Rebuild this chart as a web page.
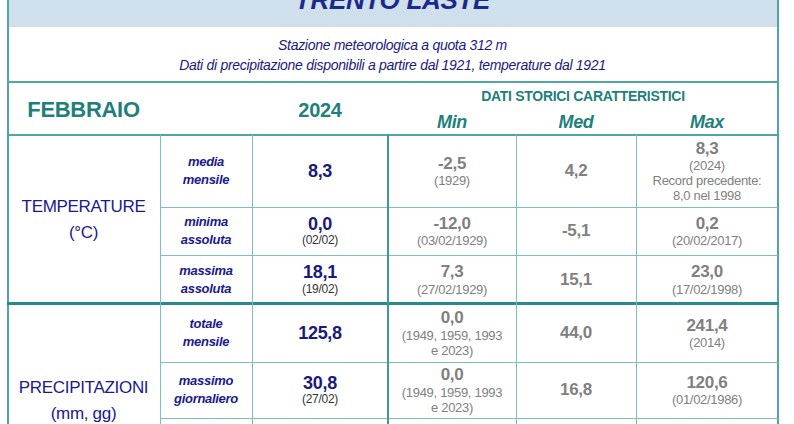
<!DOCTYPE html>
<html><head><meta charset="utf-8">
<script src="https://cdn.jsdelivr.net/npm/chart.js"></script>
<style>
body{margin:0;width:794px;height:424px;overflow:hidden;background:#fff;font-family:"Liberation Sans Narrow","Liberation Sans",Arial,sans-serif;letter-spacing:-0.3px;}
#w{position:relative;width:794px;height:424px;}
.a{position:absolute;text-align:center;line-height:1.15;display:flex;flex-direction:column;justify-content:center;align-items:center;}
.h{position:absolute;background:#4fa6a3;}
</style></head><body><div id="w"></div>
<script>
const title="TRENTO LASTE";
const subtitle=["Stazione meteorologica a quota 312 m","Dati di precipitazione disponibili a partire dal 1921, temperature dal 1921"];
const month="FEBBRAIO", year="2024";
const histHeader="DATI STORICI CARATTERISTICI";
const histCols=["Min","Med","Max"];
const groups=["TEMPERATURE<br>(°C)","PRECIPITAZIONI<br>(mm, gg)"];
const rowLabels=["media<br>mensile","minima<br>assoluta","massima<br>assoluta","totale<br>mensile","massimo<br>giornaliero"];
const curValues=["8,3","0,0","18,1","125,8","30,8"];
const curDates=["","(02/02)","(19/02)","","(27/02)"];
const minValues=["-2,5","-12,0","7,3","0,0","0,0"];
const minDates=["(1929)","(03/02/1929)","(27/02/1929)","(1949, 1959, 1993<br>e 2023)","(1949, 1959, 1993<br>e 2023)"];
const medValues=["4,2","-5,1","15,1","44,0","16,8"];
const maxValues=["8,3","0,2","23,0","241,4","120,6"];
const maxDates=["(2024)<br>Record precedente:<br>8,0 nel 1998","(20/02/2017)","(17/02/1998)","(2014)","(01/02/1986)"];

const W=document.getElementById('w');
function box(x,y,w,h,html,st){const d=document.createElement('div');d.className='a';d.style.cssText+=`left:${x}px;top:${y}px;width:${w}px;height:${h}px;`+(st||'');d.innerHTML=html;W.appendChild(d);return d;}
function line(x,y,w,h,c){const d=document.createElement('div');d.className='h';d.style.cssText=`left:${x}px;top:${y}px;width:${w}px;height:${h}px;`+(c?`background:${c};`:'');W.appendChild(d);}
box(7,0,771,27,'',"background:#cfdfeb;");
box(7,-14,771,30,title,"color:#1a2a8c;font-style:italic;font-weight:bold;font-size:26px;");
box(7,33,771,44,subtitle.join('<br>'),"color:#1a1a7a;font-style:italic;font-size:14px;line-height:20px;");
const cx=[7,160,252,388,516,636,778];
const ry=[135,207,255,304,362,418,480];
box(7,90,153,40,month,"color:#1f7f7c;font-weight:bold;font-size:22px;");
box(252,90,136,40,year,"color:#1f7f7c;font-weight:bold;font-size:20px;");
box(388,84,390,24,histHeader,"color:#1f7f7c;font-weight:bold;font-size:14px;");
for(let i=0;i<3;i++)box(cx[3+i],110,cx[4+i]-cx[3+i],24,histCols[i],"color:#1f7f7c;font-weight:bold;font-style:italic;font-size:18px;");
box(7,190,153,60,groups[0],"color:#1a1a8c;font-size:17px;line-height:26px;");
box(7,375,153,60,groups[1],"color:#1a1a8c;font-size:17px;line-height:26px;justify-content:flex-start;");
const G="color:#808080;font-weight:bold;";
for(let r=0;r<5;r++){
 const y=ry[r],h=ry[r+1]-ry[r];
 box(cx[1],y,cx[2]-cx[1],h,rowLabels[r],"color:#1a1a8c;font-style:italic;font-weight:bold;font-size:13px;line-height:18px;");
 box(cx[2],y,cx[3]-cx[2],h,`<span style="font-size:18px;font-weight:bold">${curValues[r]}</span>`+(curDates[r]?`<span style="font-size:12px;color:#333">${curDates[r]}</span>`:''),"color:#1a1a7a;");
 box(cx[3],y,cx[4]-cx[3],h,`<span style="font-size:17px;${G}">${minValues[r]}</span><span style="font-size:13px;color:#808080;line-height:15px">${minDates[r]}</span>`);
 box(cx[4],y,cx[5]-cx[4],h,`<span style="font-size:17px;${G}">${medValues[r]}</span>`);
 box(cx[5],y,cx[6]-cx[5],h,`<span style="font-size:17px;${G}">${maxValues[r]}</span><span style="font-size:13px;color:#808080;line-height:15px;">${maxDates[r]}</span>`);
}
line(7,0,2,424);line(777,0,2,424);
line(7,81,772,2);line(7,134,772,2);line(7,302,772,3,"#2a8a87");
for(const y of [207,255,362,418])line(160,y,618,1,"#7cc0bd");
for(const x of [160,252,516,636])line(x,135,1,300,"#7cc0bd");
line(387,135,2,300,"#3f9a97");
</script></body></html>
